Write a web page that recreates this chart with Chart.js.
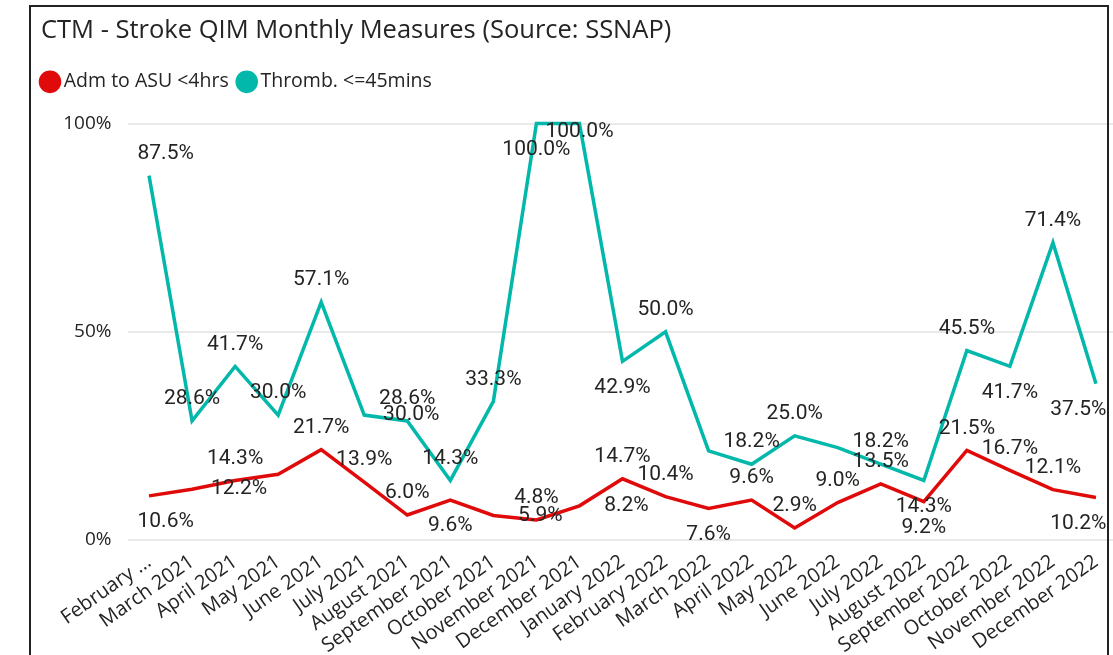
<!DOCTYPE html>
<html>
<head>
<meta charset="utf-8">
<script src="https://cdn.jsdelivr.net/npm/chart.js@4"></script>
<style>
  html, body { margin: 0; padding: 0; background: #fff; overflow: hidden; }
  #wrap { position: relative; width: 1113px; height: 655px; overflow: hidden; }
  #c { position: absolute; left: 0; top: 0; }
  #frame { position: absolute; left: 29px; top: 5px; width: 1080px; height: 700px;
           border: 2px solid #222; box-sizing: border-box; pointer-events: none; }
</style>
</head>
<body>
<div id="wrap">
  <canvas id="c" width="1120" height="655"></canvas>
  <div id="frame"></div>
</div>
<script>
// months on the x axis
const months = ['February 2021', 'March 2021', 'April 2021', 'May 2021', 'June 2021', 'July 2021',
  'August 2021', 'September 2021', 'October 2021', 'November 2021', 'December 2021',
  'January 2022', 'February 2022', 'March 2022', 'April 2022', 'May 2022', 'June 2022',
  'July 2022', 'August 2022', 'September 2022', 'October 2022', 'November 2022', 'December 2022'];

// % admitted to ASU within 4 hours
const admASU = [10.6, 12.2, 14.3, 15.8, 21.7, 13.9, 6.0, 9.6, 5.9, 4.8, 8.2,
  14.7, 10.4, 7.6, 9.6, 2.9, 9.0, 13.5, 9.2, 21.5, 16.7, 12.1, 10.2];

// % thrombolysed within 45 mins
const thromb = [87.5, 28.6, 41.7, 30.0, 57.1, 30.0, 28.6, 14.3, 33.3, 100.0, 100.0,
  42.9, 50.0, 21.4, 18.2, 25.0, 22.2, 18.2, 14.3, 45.5, 41.7, 71.4, 37.5];

const yTicks = [0, 50, 100];

// where each data label sits: a = above, b = below, r = right, c = on the point, null = hidden
const admLabelPos = ['b', 'r', 'a', null, 'a', 'a', 'a', 'b', 'r', 'a', 'r',
  'a', 'a', 'b', 'a', 'a', 'a', 'a', 'b', 'a', 'a', 'a', 'b'];
const thrombLabelPos = ['a', 'a', 'a', 'a', 'a', 'r', 'a', 'a', 'a', 'b', 'c',
  'b', 'a', null, 'a', 'a', null, 'a', 'b', 'a', 'b', 'a', 'b'];

const RED = '#E00A0A';
const TEAL = '#01B8AA';

// extra room between legend and plot, and legend nudged left
const legendTweak = {
  id: 'legendTweak',
  beforeInit(chart) {
    const fit = chart.legend.fit;
    chart.legend.fit = function() {
      fit.bind(chart.legend)();
      this.height += 22;
    };
  },
  afterLayout(chart) {
    chart.legend.left -= 9;
    chart.legend.right -= 9;
  }
};

// simple data label plugin
const dataLabels = {
  id: 'dataLabels',
  afterDatasetsDraw(chart) {
    const ctx = chart.ctx;
    const area = chart.chartArea;
    const posLists = [admLabelPos, thrombLabelPos];
    ctx.save();
    ctx.font = '21px Roboto';
    ctx.fillStyle = '#252423';
    ctx.textAlign = 'center';
    ctx.textBaseline = 'middle';
    chart.data.datasets.forEach((ds, d) => {
      const meta = chart.getDatasetMeta(d);
      meta.data.forEach((pt, i) => {
        const pos = posLists[d][i];
        if (!pos) return;
        const txt = ds.data[i].toFixed(1) + '%';
        const half = ctx.measureText(txt).width / 2;
        let x = pt.x, y = pt.y;
        if (pos === 'a') y -= 22;
        else if (pos === 'b') y += 26;
        else if (pos === 'c') y += 8;
        else if (pos === 'r') x += 47;
        x = Math.max(area.left + 10 + half, Math.min(x, area.right - 11 - half));
        ctx.fillText(txt, x, y);
      });
    });
    ctx.restore();
  }
};

new Chart(document.getElementById('c'), {
  type: 'line',
  data: {
    labels: months,
    datasets: [
      { label: 'Adm to ASU <4hrs', data: admASU, borderColor: RED, backgroundColor: RED,
        borderWidth: 3.5, pointRadius: 0, tension: 0, clip: false },
      { label: 'Thromb. <=45mins', data: thromb, borderColor: TEAL, backgroundColor: TEAL,
        borderWidth: 3.5, pointRadius: 0, tension: 0, clip: false }
    ]
  },
  options: {
    responsive: false,
    animation: false,
    layout: { padding: { left: 41, right: 2.5, top: 0, bottom: 0 } },
    plugins: {
      title: {
        display: true,
        text: 'CTM - Stroke QIM Monthly Measures (Source: SSNAP)',
        align: 'start',
        color: '#252423',
        font: { family: 'Open Sans', size: 25.5, weight: 'normal' },
        padding: { top: 15, bottom: 12.5 }
      },
      legend: {
        align: 'start',
        labels: {
          usePointStyle: true,
          pointStyle: 'circle',
          boxWidth: 8,
          boxHeight: 13.5,
          padding: 14,
          color: '#252423',
          font: { family: 'Open Sans', size: 19.5 }
        }
      },
      tooltip: { enabled: false }
    },
    scales: {
      x: {
        offset: true,
        grid: { display: false },
        border: { display: false },
        ticks: {
          autoSkip: false,
          maxRotation: 35,
          minRotation: 35,
          padding: 2,
          color: '#252423',
          font: { family: 'Open Sans', size: 20 },
          callback: function(v, i) { return i === 0 ? 'February ...' : this.getLabelForValue(v); }
        },
        afterFit: s => { s.height = 115; }
      },
      y: {
        min: 0,
        max: 100,
        afterBuildTicks: s => { s.ticks = yTicks.map(v => ({ value: v })); },
        grid: { color: '#e9e9e9', lineWidth: 2, drawTicks: false },
        border: { display: false },
        ticks: {
          padding: 16,
          color: '#252423',
          font: { family: 'Open Sans', size: 19 },
          callback: v => v + '%'
        },
        afterFit: s => { s.width = 86.5; }
      }
    }
  },
  plugins: [legendTweak, dataLabels]
});
</script>
</body>
</html>
